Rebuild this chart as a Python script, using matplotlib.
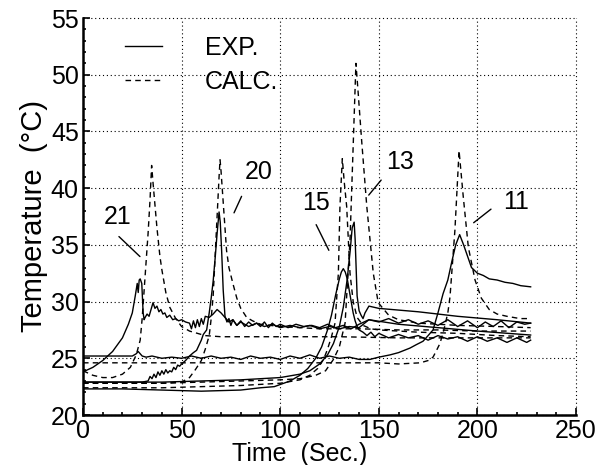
import matplotlib
matplotlib.use("Agg")
import matplotlib.pyplot as plt
from matplotlib.ticker import MultipleLocator

plt.rcParams['font.family'] = ['Liberation Sans', 'DejaVu Sans']

# ---- data (time in s, temperature in degC) ----
# sensor 21
t_exp21 = [0, 5, 10, 15, 20, 23, 25, 26.5, 27.5, 28, 28.5, 29, 29.8, 30.5, 31, 31.5, 32.5, 33.5, 34.5, 35.5,
           36.5, 37.5, 38.5, 39.5, 40.5, 41.5, 42.5, 44, 45.5, 47, 48.5, 50, 52, 54, 55, 56, 57, 58, 59, 60,
           61, 62, 64, 66, 68, 70, 72, 74, 76, 78, 80, 84, 88, 92, 96, 100, 105, 110, 115, 120, 125, 130,
           135, 140, 145, 160, 180, 200, 227]
T_exp21 = [23.8, 24.2, 24.8, 25.6, 26.8, 28.0, 29.0, 30.5, 31.6, 30.8, 31.9, 32.0, 31.6, 29.0, 28.4, 28.6, 28.9,
           28.7, 29.3, 29.9, 29.4, 29.6, 29.1, 29.3, 28.9, 29.0, 28.6, 28.8, 28.4, 28.5, 28.3, 28.4, 28.2, 28.1,
           27.6, 28.3, 27.7, 28.4, 27.8, 28.5, 28.0, 28.7, 28.6, 28.9, 29.3, 29.0, 28.6, 28.2, 28.4, 27.9, 28.2,
           27.8, 28.1, 27.8, 28.0, 27.7, 27.9, 27.7, 27.9, 27.6, 27.8, 27.6, 27.8, 27.7, 28.4, 28.0, 27.7, 27.4,
           27.05]
t_calc21 = [0, 5, 10, 15, 20, 24, 27, 29, 30, 31, 32, 33, 34, 34.8, 35.5, 36.5, 37.5, 39, 40, 42, 44, 47, 50,
            54, 58, 62, 70, 100, 130, 160, 190, 227]
T_calc21 = [23.9, 23.5, 23.3, 23.3, 23.6, 24.2, 25.3, 26.6, 28.5, 31.0, 33.5, 36.0, 39.0, 42.0, 40.5, 38.5,
            36.5, 34.0, 32.8, 30.8, 29.5, 28.5, 27.8, 27.4, 27.2, 27.0, 26.9, 26.9, 26.9, 26.8, 26.8, 26.8]

# sensor 20
t_exp20 = [0, 10, 20, 30, 33, 34, 35, 36, 37, 38, 39, 40, 41, 42, 43, 44, 45, 46, 47, 48, 49, 50, 52, 54, 56,
           57.6, 60, 61, 62.7, 64, 65, 66, 67, 68, 69, 69.6, 70.3, 71.1, 72, 73, 74, 75, 76, 78, 80, 82, 84,
           86, 88, 90, 92, 94, 96, 98, 100, 104, 108, 112, 116, 120, 124, 128, 132, 136, 140, 145, 150, 155,
           160, 165, 170, 175, 180, 185, 190, 195, 200, 204, 208, 212, 216, 220, 224, 227]
T_exp20 = [22.9, 22.9, 22.9, 22.9, 23.0, 23.4, 23.2, 23.6, 23.3, 23.8, 23.5, 23.9, 23.6, 24.0, 23.7, 23.9,
           23.8, 24.2, 24.0, 24.4, 24.3, 24.5, 24.8, 25.2, 25.5, 25.7, 26.6, 27.1, 27.5, 29.0, 30.3, 31.8,
           33.8, 36.0, 37.9, 37.0, 34.5, 31.0, 28.7, 28.2, 28.5, 27.9, 28.4, 27.9, 28.3, 27.8, 28.2, 27.9,
           28.1, 27.8, 28.2, 27.7, 28.1, 27.8, 28.0, 27.7, 28.0, 27.8, 27.9, 27.7, 28.0, 27.7, 27.9, 27.6,
           28.0, 28.4, 28.2, 28.5, 28.1, 28.4, 28.0, 28.3, 27.9, 28.4, 27.8, 28.3, 27.7, 28.2, 27.8, 28.3,
           27.7, 28.2, 28.0, 28.1]
t_calc20 = [0, 20, 40, 50, 54, 57, 60, 62, 64, 65, 66, 67, 68, 69, 69.5, 70, 71, 72, 72.8, 74, 76, 78, 80,
            83, 86, 90, 95, 100, 110, 120, 140, 160, 180, 200, 227]
T_calc20 = [22.8, 22.8, 22.8, 22.9, 23.3, 24.0, 24.8, 25.8, 27.0, 28.5, 30.5, 34.0, 37.5, 41.0, 42.5, 41.5,
            39.0, 36.5, 34.5, 33.0, 31.6, 30.3, 29.4, 28.6, 28.3, 28.0, 27.9, 27.8, 27.7, 27.6, 27.6, 27.5,
            27.5, 27.4, 27.4]

# sensor 15
t_exp15 = [0, 20, 40, 60, 80, 90, 97, 105, 110, 114, 118, 121, 124, 126, 128, 130, 131, 132, 133, 134, 135,
           136, 137, 138, 139, 140, 142, 144, 146, 148, 150, 155, 160, 165, 170, 175, 180, 185, 190, 195, 200,
           205, 210, 215, 220, 225, 227]
T_exp15 = [22.3, 22.3, 22.2, 22.1, 22.2, 22.4, 22.5, 23.0, 23.5, 24.1, 25.0, 26.0, 27.5, 28.8, 30.5, 32.0,
           32.6, 32.9, 32.6, 32.0, 31.0, 30.0, 29.0, 28.3, 27.8, 27.5, 27.3, 27.0, 27.3, 26.9, 27.2, 26.8, 27.1,
           26.8, 27.0, 26.6, 27.0, 26.7, 26.9, 26.5, 26.9, 26.5, 26.8, 26.4, 26.8, 26.4, 26.6]
t_calc15 = [0, 20, 40, 60, 80, 100, 110, 115, 119, 122, 124, 126, 127.8, 129.5, 130.3, 131.5, 132.5, 133.7,
            135.4, 137, 139, 142, 146, 150, 170, 190, 210, 227]
T_calc15 = [22.4, 22.4, 22.4, 22.5, 22.6, 22.8, 23.1, 23.5, 24.1, 24.9, 25.8, 26.9, 28.1, 32.5, 38.4, 42.6,
            40.5, 38.4, 32.5, 30.0, 28.6, 27.9, 27.6, 27.5, 27.3, 27.2, 27.0, 26.9]

# sensor 13
t_exp13 = [0, 20, 40, 60, 80, 100, 110, 115, 120, 124, 127, 130, 132, 134, 135.5, 136.5, 137.5, 138, 138.5,
           139, 140, 141, 142, 143, 145, 150, 170, 190, 210, 227]
T_exp13 = [22.9, 22.9, 22.9, 23.0, 23.1, 23.3, 23.6, 23.9, 24.5, 25.3, 26.3, 27.8, 29.5, 32.0, 34.5, 36.5,
           37.0, 35.5, 33.0, 30.5, 29.2, 28.8, 28.5, 29.0, 29.6, 29.4, 29.1, 28.7, 28.4, 28.1]
t_calc13 = [0, 20, 40, 60, 80, 100, 110, 118, 123, 127, 130, 132.9, 135.4, 137.1, 138.4, 139.5, 141.3,
            143.9, 147.2, 149.7, 155, 160, 170, 190, 210, 227]
T_calc13 = [22.8, 22.8, 22.8, 22.9, 23.0, 23.1, 23.2, 23.5, 23.9, 24.9, 26.0, 28.1, 35.4, 44.2, 51.0, 48.5,
            44.2, 38.4, 32.5, 29.9, 28.8, 28.4, 28.1, 27.9, 27.8, 27.7]

# sensor 11
t_exp11 = [0, 10, 20, 25, 27, 28, 29, 30, 32, 35, 40, 45, 50, 55, 60, 65, 70, 75, 80, 85, 90, 95, 100, 105,
           110, 115, 120, 125, 130, 135, 140, 145.5, 150, 155.7, 160, 165.8, 169, 172.4, 175, 177.5, 180, 182.6,
           185, 187, 189, 191, 193, 195, 197, 200, 203, 206, 210, 214, 218, 222, 227]
T_exp11 = [25.2, 25.2, 25.2, 25.2, 25.4, 25.6, 25.4, 25.2, 25.1, 25.2, 25.0, 25.1, 25.0, 25.2, 25.0, 25.2,
           25.0, 25.1, 24.9, 25.2, 25.0, 25.1, 24.9, 25.2, 25.0, 25.3, 25.0, 25.2, 25.0, 25.1, 24.9, 24.9, 25.1,
           25.3, 25.5, 25.9, 26.2, 26.5, 27.0, 27.5, 29.0, 30.7, 31.9, 33.5, 35.0, 35.9, 35.0, 34.0, 33.0,
           32.5, 32.3, 32.0, 31.9, 31.7, 31.6, 31.4, 31.3]
t_calc11 = [0, 30, 60, 90, 120, 150, 160, 171, 175, 177.5, 179, 181, 183, 185, 186.1, 188.6, 190.7, 192.8,
            195.4, 198.8, 202, 206, 210, 215, 221.6, 227]
T_calc11 = [24.6, 24.6, 24.6, 24.6, 24.6, 24.6, 24.5, 24.6, 24.8, 25.1, 25.6, 26.3, 27.5, 29.0, 30.4, 36.3,
            43.3, 39.3, 34.8, 31.9, 30.3, 29.3, 28.9, 28.7, 28.5, 28.5]

sensor_names = ["21", "20", "15", "13", "11"]
exp_t = [t_exp21, t_exp20, t_exp15, t_exp13, t_exp11]
exp_T = [T_exp21, T_exp20, T_exp15, T_exp13, T_exp11]
calc_t = [t_calc21, t_calc20, t_calc15, t_calc13, t_calc11]
calc_T = [T_calc21, T_calc20, T_calc15, T_calc13, T_calc11]

# ---- figure ----
fig = plt.figure(figsize=(6.01, 4.65), dpi=100)
ax = fig.add_axes([83 / 601, 1 - 415 / 465, 493 / 601, 397 / 465])

dash = (0, (4, 3))
for i in range(len(sensor_names)):
    ax.plot(exp_t[i], exp_T[i], color='black', lw=1.0, label="EXP." if i == 0 else None)
    ax.plot(calc_t[i], calc_T[i], color='black', lw=1.0, linestyle=dash, label="CALC." if i == 0 else None)

# sensor labels with leader lines (text pos, line start, line end)
label_layout = [((17.7, 37.5), (17.2, 35.9), (29.9, 33.8)),
                ((89.0, 41.4), (81.0, 39.5), (76.0, 37.6)),
                ((118.0, 38.7), (117.6, 37.0), (125.3, 34.3)),
                ((160.7, 42.3), (152.1, 40.9), (144.0, 39.2)),
                ((219.6, 38.8), (208.0, 38.3), (197.0, 36.8))]
for name, (txt, p0, p1) in zip(sensor_names, label_layout):
    ax.text(txt[0], txt[1], name, fontsize=18, ha='center', va='center')
    ax.annotate('', xy=p1, xytext=p0, arrowprops=dict(arrowstyle='-', lw=1.0, color='black'))

ax.set_xlim(0, 250)
ax.set_ylim(20, 55)
ax.xaxis.set_major_locator(MultipleLocator(50))
ax.xaxis.set_minor_locator(MultipleLocator(10))
ax.yaxis.set_major_locator(MultipleLocator(5))
ax.yaxis.set_minor_locator(MultipleLocator(1))
ax.tick_params(which='both', direction='in', top=False, right=False, width=1.2)
ax.tick_params(which='major', length=5, labelsize=18)
ax.tick_params(axis='x', which='major', pad=3)
ax.tick_params(axis='y', which='major', pad=3)
ax.tick_params(which='minor', length=2.5)

ax.spines['top'].set_visible(False)
ax.spines['right'].set_visible(False)
ax.spines['left'].set_linewidth(1.8)
ax.spines['bottom'].set_linewidth(1.8)

ax.grid(True, which='major', linestyle=(0, (1, 2.5)), color='black', lw=0.8)
for gl in ax.get_xgridlines() + ax.get_ygridlines():
    gl.set_clip_on(False)

ax.set_xlabel("Time  (Sec.)", fontsize=18)
ax.xaxis.set_label_coords(0.44, -0.069)
ax.set_ylabel("Temperature  (°C)", fontsize=21, labelpad=2)

ax.legend(loc='upper left', bbox_to_anchor=(0.085, 0.955), frameon=False, fontsize=18,
          handlelength=1.5, handletextpad=1.7, labelspacing=0.4, borderpad=0, borderaxespad=0)

fig.savefig("out.png", dpi=100)
